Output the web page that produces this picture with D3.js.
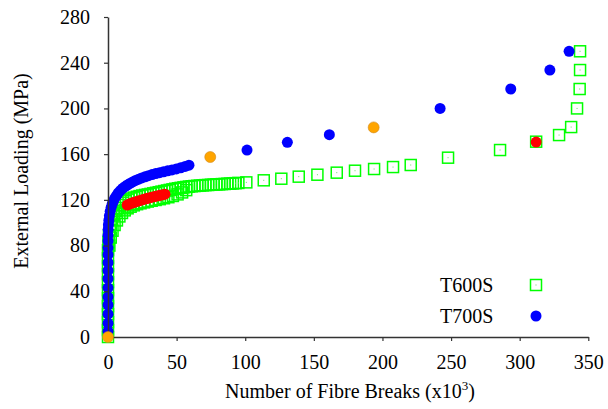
<!DOCTYPE html>
<html><head><meta charset="utf-8">
<script src="https://cdn.jsdelivr.net/npm/d3@7/dist/d3.min.js"></script>
<style>body{margin:0;background:#fff}svg{display:block}</style>
</head><body><svg id="c" width="608" height="409"></svg>
<script>
// ---- data (x = fibre breaks in thousands, y = external loading in MPa) ----
const xTicks = [0, 50, 100, 150, 200, 250, 300, 350];
const yTicks = [0, 40, 80, 120, 160, 200, 240, 280];
const seriesNames = ["T600S", "T700S"];

// T600S (green open squares) - upper track of dense band + sparse tail
const t600S = [
 [0,0],[0,6],[0,13],[0,20],[0,27],[0,34],[0,41],[0,48],[0,55],[0,62],[0,69],[0,76],
 [0.3,83],[0.7,89],[1.3,94],[2.1,98.5],[3,102.5],[4.2,106.5],[5.6,110],[7.2,113],[9,115.5],
 [11,117.5],[13,119],[15,120.2],[17,121.2],[19,122],[21,122.7],[23,123.3],[25,123.8],[27,124.3],
 [29,124.7],[31,125.2],[33,125.7],[35,126.2],[37,126.7],[39,127.2],[41,127.7],[43,128.2],[45,128.7],
 [47,129.2],[49,129.7],[51,130.1],[53,130.5],[55,130.9],[57,131.3],[59,131.6],[61,131.9],[63,132.1],
 [65,132.3],[67,132.5],[69,132.7],[71,132.9],[73,133],[75,133.2],[77,133.3],[79,133.5],[81,133.6],
 [83,133.8],[85,133.9],[87,134.1],[89,134.2],[91,134.4],[93,134.6],[95,134.8],
 [100.8,135.3],[113.5,137.1],[126.3,138.5],[139,140.3],[152.6,142],[166.7,143.8],[180,145.5],
 [193.9,147],[207.7,148.7],[220.6,150.5],[247.8,156.9],[285.7,163.6],[312,170.9],[328.7,176.7],
 [337.5,183.7],[341.8,200],[343.7,217],[344,233.6],[344,250]
];
// T600S lower track of the dense band
const t600SLower = [
 [1,80],[2,87],[3.3,93],[4.8,98],[6.5,102],[8.3,105.5],[10.2,108.5],[12.2,110.8],[14.3,112.6],
 [16.5,114],[18.8,115.2],[21.2,116.2],[23.7,117],[26.3,117.8],[29,118.5],[31.8,119.2],[34.7,119.9],
 [37.7,120.6],[40.8,121.4],[44,122.3],[47.3,123.4],[50.7,124.8],[54,126.5],[57,128.5]
];
// T700S (blue filled circles)
const t700S = [
 [0,5],[0,12],[0,20],[0,28],[0,35],[0,43],[0,51],[0,58],[0,65],[0,72],[0,78],[0,84],[0,89],
 [0.1,94],[0.3,98],[0.6,102],[1,106],[1.6,110],[2.3,113.5],[3.1,116.5],[4,119],[5,121.5],[6.2,123.8],
 [7.5,126],[9,128],[10.6,130],[12.3,131.5],[14.1,133],[16,134.4],[18,135.7],[20.1,137],[22.3,138.1],
 [24.6,139.2],[27,140.2],[29.5,141.2],[32.1,142.1],[34.8,143],[37.6,143.8],[40.5,144.6],[43.5,145.4],
 [46.6,146.2],[49.8,147.1],[53,148.1],[56.2,149.2],[59,150.3],
 [101.3,163.6],[130.7,170.3],[161.3,177],[242,200],[293.5,217],[322,233.6],[336,250]
];
// highlighted points (red)
const redPts = [
 [14,115.5],[15.5,116.3],[17,117],[18.5,117.6],[20,118.2],[21.5,118.8],[23,119.3],[24.5,119.9],
 [26,120.4],[27.5,120.9],[29,121.4],[30.5,121.9],[32,122.3],[33.5,122.8],[35,123.2],[36.5,123.6],
 [38,124],[40,124.5],[41.5,125],[312,170.6]
];
// highlighted points (orange)
const orangePts = [[0,0],[74.5,157.5],[193.6,183.4]];

// ---- layout ----
const FONT = '"Liberation Serif", "Times New Roman", Times, serif';
const svg = d3.select("#c");
const x = d3.scaleLinear().domain([0, 350]).range([108, 588.3]);
const y = d3.scaleLinear().domain([0, 280]).range([337, 17]);
const SQ = 11, R = 5.5;

const g = svg.append("g");
function squares(parent, data) {
  const s = parent.append("g").selectAll("g").data(data).join("g")
    .attr("transform", d => `translate(${x(d[0])},${y(d[1])})`);
  s.append("rect").attr("x", -SQ/2).attr("y", -SQ/2).attr("width", SQ).attr("height", SQ)
    .attr("fill", "none").attr("stroke", "#00ff00").attr("stroke-width", 1.5);
  s.append("rect").attr("x", -0.5).attr("y", -0.5).attr("width", 1).attr("height", 1).attr("fill", "#66dd66");
}
function circles(data, color, stroke) {
  g.append("g").selectAll("circle").data(data).join("circle")
    .attr("cx", d => x(d[0])).attr("cy", d => y(d[1])).attr("r", R)
    .attr("fill", color).attr("stroke", stroke || "none").attr("stroke-width", 0.6);
}
squares(g, t600SLower);
squares(g, t600S);
circles(t700S, "#0000ff");
circles(redPts, "#ff0000");

// axes
const ax = svg.append("g").attr("transform", "translate(0,337)")
  .call(d3.axisBottom(x).tickValues(xTicks).tickSize(4).tickPadding(14).tickSizeOuter(0));
const ay = svg.append("g").attr("transform", "translate(108,0)")
  .call(d3.axisLeft(y).tickValues(yTicks).tickSize(4).tickPadding(14).tickSizeOuter(0));
[ax, ay].forEach(a => {
  a.attr("font-family", null).attr("font-size", null);
  a.select(".domain").attr("stroke", "#333").attr("stroke-width", 1.5);
  a.selectAll(".tick line").attr("stroke", "#333").attr("stroke-width", 1.2);
  a.selectAll(".tick text").style("font-family", FONT).style("font-size", "20px").attr("fill", "#000");
});
const orange = svg.append("g");
orange.selectAll("circle").data(orangePts).join("circle")
  .attr("cx", d => x(d[0])).attr("cy", d => y(d[1])).attr("r", R)
  .attr("fill", "#ffa500").attr("stroke", "#d08a20").attr("stroke-width", 0.6);

// axis titles
svg.append("text").attr("transform", "translate(28,171) rotate(-90)")
  .attr("text-anchor", "middle").style("font-family", FONT).style("font-size", "20px").text("External Loading (MPa)");
const xt = svg.append("text").attr("x", 350).attr("y", 398).attr("text-anchor", "middle")
  .style("font-family", FONT).style("font-size", "20px");
xt.append("tspan").text("Number of Fibre Breaks (x10");
xt.append("tspan").style("font-size", "13px").attr("dy", -8).text("3");
xt.append("tspan").attr("dy", 8).text(")");

// legend
const leg = svg.append("g");
seriesNames.forEach((n, i) => {
  const cy = [285, 316][i];
  leg.append("text").attr("x", 440).attr("y", cy + 7)
    .style("font-family", FONT).style("font-size", "20px").text(n);
});
leg.append("rect").attr("x", 536 - SQ/2).attr("y", 285 - SQ/2).attr("width", SQ).attr("height", SQ)
  .attr("fill", "none").attr("stroke", "#00ff00").attr("stroke-width", 1.5);
leg.append("rect").attr("x", 535.5).attr("y", 284.5).attr("width", 1).attr("height", 1).attr("fill", "#66dd66");
leg.append("circle").attr("cx", 536).attr("cy", 316).attr("r", R).attr("fill", "#0000ff");
</script></body></html>
